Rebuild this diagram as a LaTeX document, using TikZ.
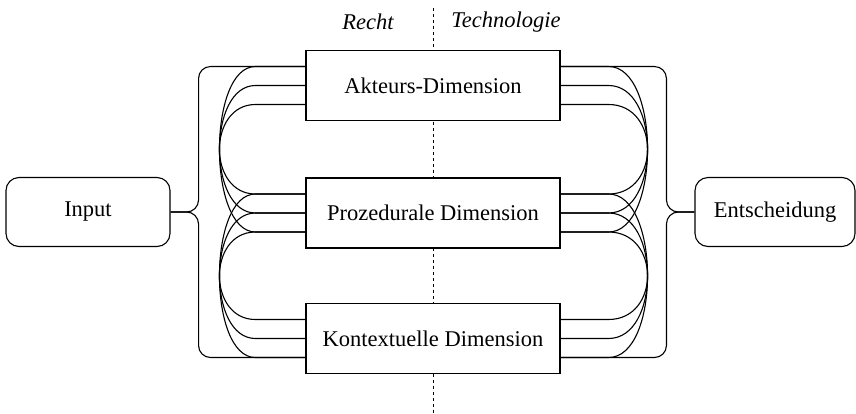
\documentclass[tikz,border=0pt]{standalone}
\usepackage{fontspec}
\setmainfont{Liberation Serif}
\usetikzlibrary{calc}
\begin{document}
\begin{tikzpicture}[x=0.5pt,y=-0.5pt,
  every node/.style={font=\fontsize{11.25}{13.5}\selectfont},
  line/.style={line width=0.55pt},
  dimbox/.style={draw,line width=0.55pt,fill=white,minimum width=127pt,minimum height=35pt,inner sep=0pt},
  endbox/.style={draw,line width=0.55pt,fill=white,rounded corners=6.5pt,minimum height=34.5pt,inner sep=0pt},
  side/.style={font=\fontsize{11.25}{13.5}\selectfont\itshape}]
\useasboundingbox (0,0) rectangle (856,413);

% divider between the two perspectives
\draw[line width=0.5pt,dash pattern=on 1.5pt off 1.5pt] (433,8) -- (433,413);
\node[side] (recht) at (368,22) {Recht};
\node[side] (tech) at (506,22) {Technologie};

% the three dimensions
\node[dimbox] (A) at (433,85.5) {Akteurs-Dimension};
\node[dimbox] (P) at (433,213) {Prozedurale Dimension};
\node[dimbox] (K) at (433,338.5) {Kontextuelle Dimension};

% input and decision
\node[endbox,minimum width=82pt] (in) at (88,212) {Input};
\node[endbox,minimum width=80pt] (out) at (775,212) {Entscheidung};

% three ports on each side of every dimension box
\foreach \b in {A,P,K}{
  \coordinate (\b-w1) at ([yshift=9.5pt]\b.west);
  \coordinate (\b-w2) at (\b.west);
  \coordinate (\b-w3) at ([yshift=-9.5pt]\b.west);
  \coordinate (\b-e1) at ([yshift=9.5pt]\b.east);
  \coordinate (\b-e2) at (\b.east);
  \coordinate (\b-e3) at ([yshift=-9.5pt]\b.east);
}

% nested loops between neighbouring dimensions
\foreach \u/\v in {A-w1/P-w3, A-w2/P-w2, A-w3/P-w1, P-w1/K-w3, P-w2/K-w2, P-w3/K-w1}
  \draw[line] (\u) -- ++(-25pt,0) .. controls +(-24pt,0) and +(-24pt,0) .. ([xshift=-25pt]\v) -- (\v);
\foreach \u/\v in {A-e1/P-e3, A-e2/P-e2, A-e3/P-e1, P-e1/K-e3, P-e2/K-e2, P-e3/K-e1}
  \draw[line] (\u) -- ++(24pt,0) .. controls +(26pt,0) and +(26pt,0) .. ([xshift=24pt]\v) -- (\v);

% braces to input and decision
\draw[line,rounded corners=6pt] (A-w1) -| ($(in.east)+(14pt,0)$) -- (in.east);
\draw[line,rounded corners=6pt] (K-w3) -| ($(in.east)+(14pt,0)$) -- (in.east);
\draw[line,rounded corners=6pt] (A-e1) -| ($(out.west)+(-14pt,0)$) -- (out.west);
\draw[line,rounded corners=6pt] (K-e3) -| ($(out.west)+(-14pt,0)$) -- (out.west);
\end{tikzpicture}
\end{document}
